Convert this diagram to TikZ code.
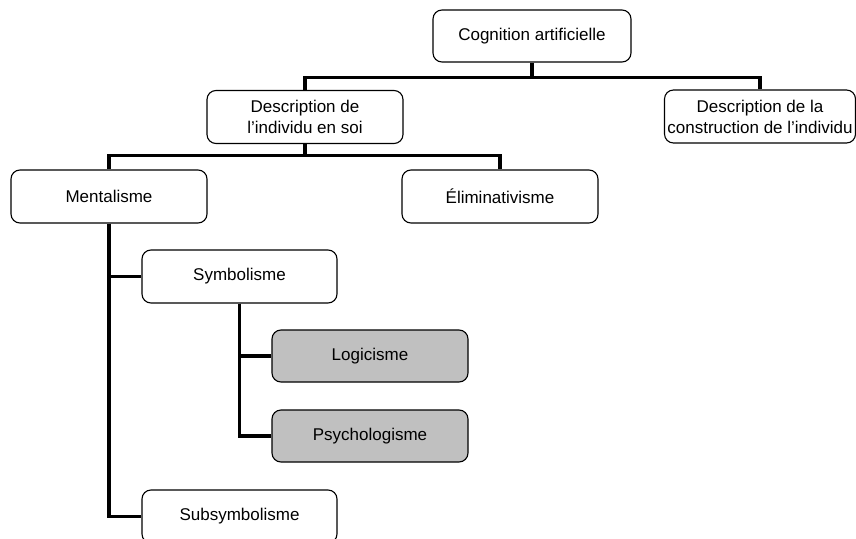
\documentclass[tikz,border=0pt]{standalone}
\usepackage{fontspec}
\setmainfont{Liberation Sans}
\definecolor{boxgray}{RGB}{192,192,192}
\begin{document}
\begin{tikzpicture}[x=1pt,y=-1pt,
  box/.style={draw=black,line width=1.1pt,rounded corners=9pt,fill=white,
    minimum width=196pt,minimum height=53pt,inner sep=0pt,align=center,
    font=\fontsize{17}{21}\selectfont},
  graybox/.style={box,fill=boxgray},
  conn/.style={draw=black,line width=3.4pt,line join=miter}]
\clip (0,0) rectangle (856,538);
\fill[white] (0,0) rectangle (856,538);
% connectors first
\coordinate (j1) at (532,77.7);
\coordinate (j2) at (305,155.7);
\node[box,minimum width=198pt,minimum height=52pt] (cog) at (532,36) {Cognition artificielle};
\node[box] (d1) at (305,117) {Description de\\l’individu en soi};
\node[box,minimum width=191pt] (d2) at (760,116.5) {Description de la\\construction de l’individu};
\node[box] (ment) at (109,196.5) {Mentalisme};
\node[box] (elim) at (500,196.5) {Éliminativisme};
\node[box,minimum width=195pt] (sym) at (239.5,276.5) {Symbolisme};
\node[graybox,minimum height=52pt] (log) at (370,356) {Logicisme};
\node[graybox,minimum height=52pt] (psy) at (370,436) {Psychologisme};
\node[box,minimum width=195pt] (sub) at (239.5,516.5) {Subsymbolisme};
\begin{scope}[on background layer/.style={}]
\end{scope}
\draw[conn] (cog.south) -- (j1);
\draw[conn] (j1) -| (d1.north);
\draw[conn] (j1) -| (d2.north);
\draw[conn] (d1.south) -- (j2);
\draw[conn] (j2) -| (ment.north);
\draw[conn] (j2) -| (elim.north);
\draw[conn] (ment.south) |- (sym.west);
\draw[conn] (ment.south) |- (sub.west);
\draw[conn] (sym.south) |- (log.west);
\draw[conn] (sym.south) |- (psy.west);
\end{tikzpicture}
\end{document}
